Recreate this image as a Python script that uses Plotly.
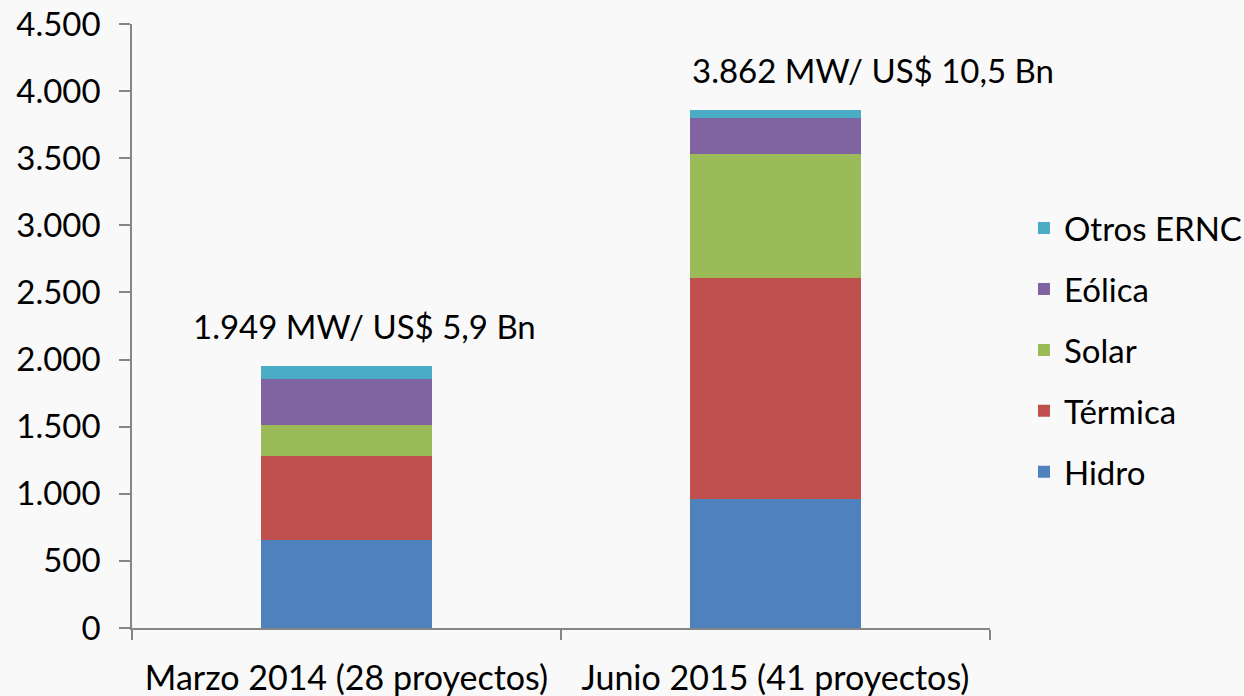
import plotly.graph_objects as go

categories = ["Marzo 2014 (28 proyectos)", "Junio 2015 (41 proyectos)"]
hidro = [655, 963]
termica = [628, 1647]
solar = [226, 922]
eolica = [348, 270]
otros = [92, 60]
totals = [1949, 3862]
total_labels = ["1.949 MW/ US$ 5,9 Bn", "3.862 MW/ US$ 10,5 Bn"]
y_ticks = [0, 500, 1000, 1500, 2000, 2500, 3000, 3500, 4000, 4500]

series = [
    ("Hidro", hidro, "#4F81BD"),
    ("Térmica", termica, "#C0504D"),
    ("Solar", solar, "#9BBB59"),
    ("Eólica", eolica, "#8064A2"),
    ("Otros ERNC", otros, "#4BACC6"),
]

FONT = "Lato"
FS = 33
fig = go.Figure()
n = len(series)
for i, (name, vals, color) in enumerate(series):
    fig.add_trace(go.Bar(
        x=categories, y=vals, name=name, legendgroup=name,
        legendrank=n - i,
        marker=dict(color=color, line=dict(width=0)),
        width=0.4,
    ))

ann_shift = [(18, 40), (97, 40)]
for cat, tot, lab, (xs, ys) in zip(categories, totals, total_labels, ann_shift):
    fig.add_annotation(x=cat, y=tot, text=lab, showarrow=False,
                       xshift=xs, yshift=ys, yanchor="middle",
                       font=dict(family=FONT, size=FS, color="black"))

fig.update_layout(
    barmode="stack",
    width=1244, height=696,
    margin=dict(l=132, r=254, t=24, b=68, autoexpand=False),
    paper_bgcolor="#F9F9F9", plot_bgcolor="#F9F9F9",
    separators=",.",
    font=dict(family=FONT, size=FS, color="black"),
    legend=dict(x=1.0396, y=0.46, xanchor="left", yanchor="middle",
                traceorder="grouped", tracegroupgap=15,
                font=dict(family=FONT, size=FS, color="black"),
                bgcolor="rgba(0,0,0,0)"),
    showlegend=True,
)
fig.update_yaxes(range=[0, 4500], tickvals=y_ticks, tickformat=",d",
                 showgrid=False, zeroline=False, showline=True, automargin=False,
                 linecolor="#868686", linewidth=1.5,
                 ticks="outside", ticklen=11, tickcolor="#868686", tickwidth=1.5,
                 ticklabelstandoff=12,
                 tickfont=dict(family=FONT, size=FS, color="black"))
fig.update_xaxes(range=[-0.5, 1.5], autorange=False, tickangle=0,
                 showgrid=False, showline=True, linecolor="#868686", linewidth=1.5,
                 automargin=False,
                 ticks="outside", ticklen=10, tickcolor="#868686", tickwidth=1.5,
                 tickson="boundaries", ticklabelstandoff=19,
                 tickfont=dict(family=FONT, size=34, color="black"))

fig.write_html("out.html", config={"displayModeBar": False},
               post_script="document.body.style.margin='0';")
